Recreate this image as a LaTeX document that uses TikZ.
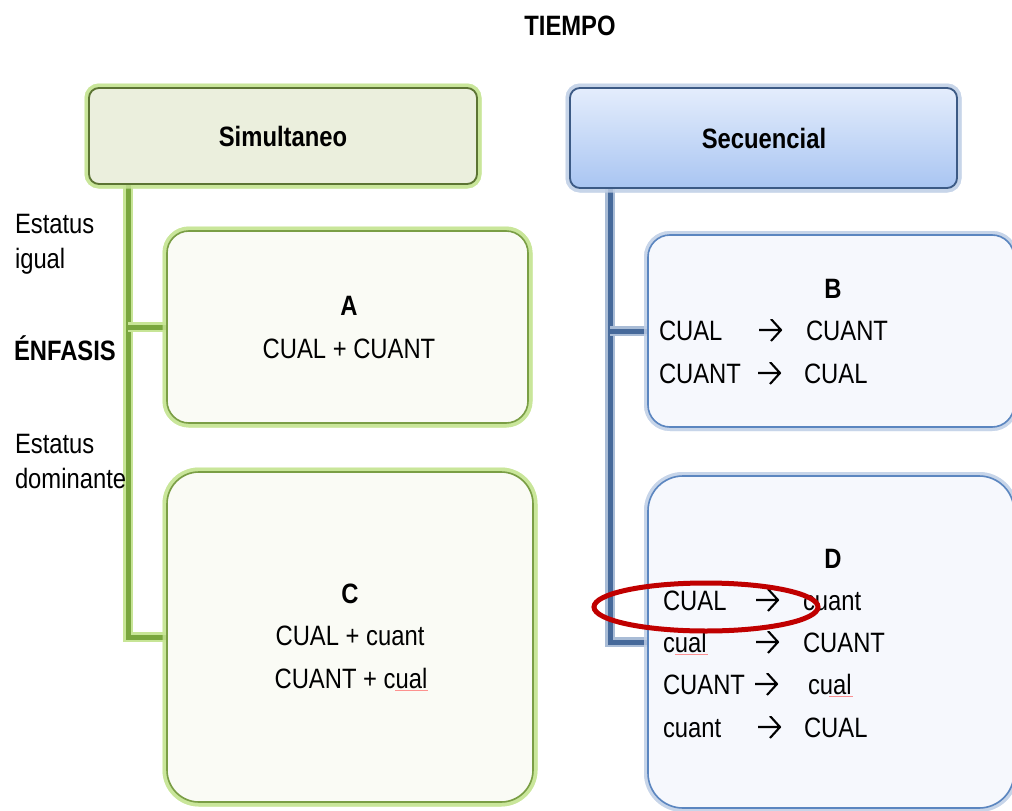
\documentclass[tikz,border=0pt]{standalone}
\usepackage{fontspec}
\setmainfont{Liberation Sans}[FakeStretch=0.85]
\definecolor{simfill}{HTML}{EBEFDD}
\definecolor{simedge}{HTML}{5C7433}
\definecolor{greenglow}{HTML}{C7E596}
\definecolor{gfill}{HTML}{FAFBF5}
\definecolor{gedge}{HTML}{7A9E45}
\definecolor{gtrunk}{HTML}{79A63E}
\definecolor{sectop}{HTML}{E4EDFC}
\definecolor{secbot}{HTML}{A9C5F2}
\definecolor{secedge}{HTML}{3C5A85}
\definecolor{blueglow}{HTML}{C5D3E8}
\definecolor{bfill}{HTML}{F6F8FD}
\definecolor{bedge}{HTML}{5B86C0}
\definecolor{btrunk}{HTML}{46699A}
\definecolor{btrunkglow}{HTML}{A9BCD6}
\definecolor{ring}{HTML}{C00000}
\begin{document}
\begin{tikzpicture}[x=1pt,y=-1pt,
  every node/.style={font=\fontsize{28}{34}\selectfont, inner sep=0pt, outer sep=0pt},
  lbl/.style={font=\fontsize{28}{34}\selectfont\bfseries},
  % open-headed arrow sign between the two terms of a sequence
  seqarrow/.style={minimum width=24, minimum height=22,
     path picture={\draw[line width=2.1, line join=miter]
        ([xshift=1]path picture bounding box.west) -- ([xshift=-1]path picture bounding box.east)
        ([xshift=-11]path picture bounding box.north east) -- ([xshift=-1]path picture bounding box.east)
        -- ([xshift=-11]path picture bounding box.south east);}},
  gbox/.style={draw=gedge, line width=1.6, fill=gfill,
     preaction={draw=greenglow, line width=9, opacity=0.8}},
  bbox/.style={draw=bedge, line width=1.6, fill=bfill,
     preaction={draw=blueglow, line width=8, opacity=0.8}},
  ghead/.style={draw=simedge, line width=1.8, fill=simfill,
     preaction={draw=greenglow, line width=9, opacity=0.8}},
  bhead/.style={draw=secedge, line width=1.8, top color=sectop, bottom color=secbot,
     preaction={draw=blueglow, line width=9, opacity=0.8}},
  gline/.style={draw=gtrunk, line width=5,
     preaction={draw=greenglow, line width=10}},
  bline/.style={draw=btrunk, line width=5,
     preaction={draw=btrunkglow, line width=10}},
  squiggle/.style={draw=red!70, line width=0.7, opacity=0.6}
]
\useasboundingbox (0,0) rectangle (1012,811);
\clip (0,0) rectangle (1012,811);

% anchor points of the two trunks
\coordinate (trunkL) at (128,0);
\coordinate (trunkR) at (610,0);

% boxes with their halos
\node[ghead, rounded corners=10, minimum width=388, minimum height=96] (sim) at (283,136) {};
\node[bhead, rounded corners=10, minimum width=387, minimum height=100] (sec) at (763.5,138) {};
\node[gbox, rounded corners=22, minimum width=361, minimum height=192] (A) at (347.5,327) {};
\node[gbox, rounded corners=32, minimum width=366, minimum height=330] (C) at (350,637) {};
\node[bbox, rounded corners=22, minimum width=366, minimum height=192] (B) at (831,331) {};
\node[bbox, rounded corners=35, minimum width=366, minimum height=332] (D) at (831,642) {};

% trunks and branches
\path[gline] (sim.south -| trunkL) ++(0,-4) -- (trunkL |- C.west) -- (C.west);
\path[gline] (trunkL |- A.west) -- (A.west);
\path[bline] (sec.south -| trunkR) ++(0,-4) -- (trunkR |- D.west) -- (D.west);
\path[bline] (trunkR |- B.west) -- (B.west);

% box outlines again, above the branch ends
\node[ghead, rounded corners=10, minimum width=388, minimum height=96, preaction={draw=none}] at (sim) {};
\node[bhead, rounded corners=10, minimum width=387, minimum height=100, preaction={draw=none}] at (sec) {};
\node[gbox, rounded corners=22, minimum width=361, minimum height=192, preaction={draw=none}] at (A) {};
\node[gbox, rounded corners=32, minimum width=366, minimum height=330, preaction={draw=none}] at (C) {};
\node[bbox, rounded corners=22, minimum width=366, minimum height=192, preaction={draw=none}] at (B) {};
\node[bbox, rounded corners=35, minimum width=366, minimum height=332, preaction={draw=none}] at (D) {};

% titles
\node[lbl, anchor=base] (tiempo) at (570,35) {TIEMPO};
\node[lbl, anchor=base] (tsim) at (283,146) {Simultaneo};
\node[lbl, anchor=base] (tsec) at (764,148) {Secuencial};

% side labels
\node[anchor=base west] (e1) at (15,233) {Estatus};
\node[anchor=base west] (e2) at (15,268) {igual};
\node[lbl, anchor=base west] (enf) at (14,360) {ÉNFASIS};
\node[anchor=base west] (e3) at (15,453) {Estatus};
\node[anchor=base west] (e4) at (15,488) {dominante};

% box A
\node[lbl, anchor=base] (la) at (349,315) {A};
\node[anchor=base] (a1) at (349,358) {CUAL + CUANT};

% box C
\node[lbl, anchor=base] (lc) at (350,603) {C};
\node[anchor=base] (c1) at (350,645) {CUAL + cuant};
\node[anchor=base] (c2) at (351,688) {CUANT + cual};
\draw[squiggle] (395,690) -- (428,690);

% box B
\node[lbl, anchor=base] (lb) at (833,298) {B};
\node[anchor=base west] (b11) at (659,340) {CUAL};
\node[seqarrow] (b12) at (770,330) {};
\node[anchor=base west] (b13) at (806,340) {CUANT};
\node[anchor=base west] (b21) at (659,383) {CUANT};
\node[seqarrow] (b22) at (769,373) {};
\node[anchor=base west] (b23) at (804,383) {CUAL};

% box D
\node[lbl, anchor=base] (ld) at (833,568) {D};
\node[anchor=base west] (d11) at (663,610) {CUAL};
\node[seqarrow] (d12) at (767,600) {};
\node[anchor=base west] (d13) at (803,610) {cuant};
\node[anchor=base west] (d21) at (663,652) {cual};
\node[seqarrow] (d22) at (767,642) {};
\node[anchor=base west] (d23) at (803,652) {CUANT};
\node[anchor=base west] (d31) at (663,694) {CUANT};
\node[seqarrow] (d32) at (766,684) {};
\node[anchor=base west] (d33) at (808,694) {cual};
\node[anchor=base west] (d41) at (663,737) {cuant};
\node[seqarrow] (d42) at (769,727) {};
\node[anchor=base west] (d43) at (804,737) {CUAL};
\draw[squiggle] (675,654) -- (708,654);
\draw[squiggle] (829,696) -- (853,696);

% highlight ring
\draw[ring, line width=5] (706,607) ellipse [x radius=112, y radius=24];
\end{tikzpicture}
\end{document}
